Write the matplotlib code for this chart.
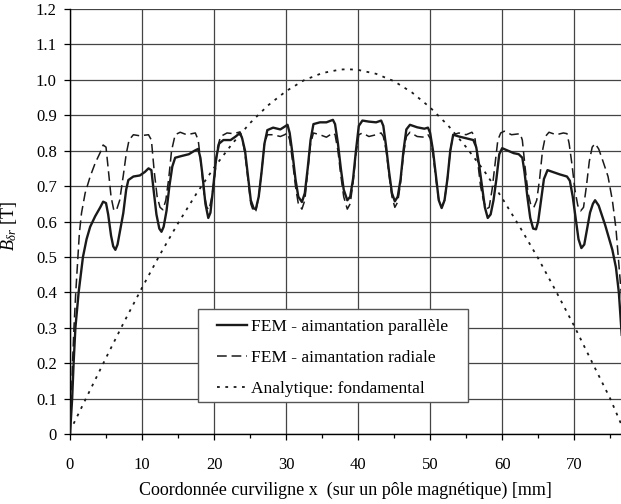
import matplotlib
matplotlib.use("Agg")
import matplotlib.pyplot as plt
from matplotlib.patches import Rectangle

plt.rcParams['font.family'] = ['Liberation Serif', 'DejaVu Serif']
plt.rcParams['mathtext.fontset'] = 'custom'
plt.rcParams['mathtext.rm'] = 'Liberation Serif'
plt.rcParams['mathtext.it'] = 'Liberation Serif:italic'
plt.rcParams['lines.scale_dashes'] = False

# ---- data ----
x_par = [0, 0.3, 0.5, 0.75, 1.2, 1.8, 2.3, 2.8, 3.5, 4.2, 4.6, 5.0, 5.3, 5.7, 6.0, 6.3, 6.6, 7.0, 7.4, 7.8, 8.1, 8.8, 9.7, 10.4, 10.9, 11.3,
         11.6, 12.0, 12.4, 12.7, 13.0, 13.4, 13.8, 14.2, 14.6, 15.5, 16.5, 17.3, 17.8,
         18.1, 18.4, 18.8, 19.2, 19.5, 19.9, 20.3, 20.7, 21.3, 22.3, 23.0, 23.6,
         23.9, 24.3, 24.7, 25.1, 25.5, 25.8, 26.2, 26.6, 27.0, 27.4, 28.2, 29.2, 29.8, 30.2,
         30.5, 30.9, 31.3, 31.7, 32.2, 32.6, 33.0, 33.4, 33.8, 34.7, 35.6, 36.5, 36.8,
         37.2, 37.6, 38.0, 38.5, 38.9, 39.3, 39.7, 40.1, 40.6, 41.5, 42.5, 43.2, 43.5,
         43.9, 44.3, 44.7, 45.1, 45.5, 45.9, 46.3, 46.7, 47.2, 48.2, 49.2, 49.7, 50.0,
         50.4, 50.8, 51.2, 51.6, 52.0, 52.4, 52.8, 53.2, 54.0, 55.0, 56.0, 56.4,
         56.8, 57.2, 57.6, 58.0, 58.4, 58.8, 59.2, 59.6, 60.0, 60.8, 61.6, 62.3, 62.8,
         63.1, 63.5, 63.9, 64.3, 64.7, 65.0, 65.4, 65.8, 66.3, 67.0, 68.0, 69.0, 69.4,
         69.8, 70.2, 70.6, 71.0, 71.4, 71.8, 72.2, 72.6, 72.9, 73.4, 74.3, 75.3, 75.8, 76.2, 76.6]
y_par = [0, 0.1, 0.2, 0.3, 0.4, 0.5, 0.55, 0.585, 0.615, 0.64, 0.656, 0.652, 0.62, 0.56, 0.53, 0.52, 0.535, 0.58, 0.624, 0.69, 0.717, 0.727, 0.73, 0.74, 0.75, 0.745,
         0.69, 0.62, 0.58, 0.571, 0.585, 0.63, 0.70, 0.755, 0.78, 0.785, 0.79, 0.80, 0.805,
         0.78, 0.73, 0.65, 0.61, 0.625, 0.70, 0.78, 0.82, 0.83, 0.83, 0.84, 0.85,
         0.835, 0.80, 0.73, 0.66, 0.637, 0.635, 0.67, 0.74, 0.82, 0.858, 0.865, 0.86, 0.868, 0.873,
         0.85, 0.79, 0.72, 0.67, 0.655, 0.68, 0.75, 0.83, 0.875, 0.88, 0.88, 0.887, 0.875,
         0.82, 0.75, 0.69, 0.66, 0.67, 0.72, 0.80, 0.87, 0.885, 0.882, 0.88, 0.885, 0.87,
         0.81, 0.74, 0.68, 0.657, 0.67, 0.72, 0.80, 0.86, 0.873, 0.866, 0.862, 0.865, 0.85,
         0.80, 0.73, 0.66, 0.638, 0.66, 0.72, 0.80, 0.845, 0.84, 0.835, 0.83, 0.81,
         0.76, 0.70, 0.64, 0.61, 0.62, 0.66, 0.72, 0.79, 0.807, 0.80, 0.793, 0.79, 0.78,
         0.74, 0.67, 0.61, 0.58, 0.578, 0.60, 0.66, 0.72, 0.745, 0.74, 0.733, 0.727, 0.715,
         0.67, 0.61, 0.55, 0.525, 0.535, 0.58, 0.625, 0.65, 0.66, 0.645, 0.59, 0.52, 0.47, 0.40, 0.28]

x_rad = [0, 0.2, 0.35, 0.55, 0.8, 1.1, 1.3, 1.6, 2.1, 2.8, 3.5, 4.2, 4.6, 5.0, 5.3, 5.7, 6.1, 6.5, 6.9, 7.4, 7.8, 8.2, 8.8, 9.7, 10.9, 11.3,
         11.7, 12.1, 12.5, 12.9, 13.3, 13.7, 14.1, 14.6, 15.3, 16.2, 17.4, 17.8,
         18.2, 18.6, 19.0, 19.3, 19.7, 20.1, 20.5, 20.9, 21.8, 22.7, 23.6,
         23.9, 24.3, 24.7, 25.1, 25.5, 25.8, 26.2, 26.6, 27.0, 27.4, 28.2, 29.2, 29.8, 30.2,
         30.5, 30.9, 31.3, 31.7, 32.2, 32.6, 33.0, 33.4, 33.8, 34.7, 35.6, 36.5, 36.8,
         37.2, 37.6, 38.0, 38.5, 38.9, 39.3, 39.7, 40.1, 40.6, 41.5, 42.5, 43.2, 43.5,
         43.9, 44.3, 44.7, 45.1, 45.5, 45.9, 46.3, 46.7, 47.2, 48.2, 49.2, 49.7, 50.0,
         50.4, 50.8, 51.2, 51.6, 52.0, 52.4, 52.8, 53.2, 54.0, 55.0, 55.8, 56.2,
         56.6, 57.0, 57.4, 57.8, 58.2, 58.6, 59.0, 59.4, 59.8, 60.3, 61.3, 62.5, 62.8,
         63.2, 63.6, 64.0, 64.4, 64.8, 65.2, 65.6, 66.0, 66.5, 67.5, 68.5, 69.0, 69.3,
         69.7, 70.1, 70.5, 70.9, 71.3, 71.7, 72.1, 72.5, 72.9, 73.4, 74.0, 74.7, 75.3, 75.8, 76.2, 76.6]
y_rad = [0, 0.1, 0.2, 0.3, 0.4, 0.5, 0.567, 0.624, 0.68, 0.727, 0.765, 0.795, 0.816, 0.81, 0.75, 0.67, 0.63, 0.635, 0.66, 0.73, 0.79, 0.83, 0.845, 0.842, 0.845, 0.83,
         0.74, 0.67, 0.64, 0.633, 0.66, 0.72, 0.80, 0.845, 0.852, 0.845, 0.85, 0.83,
         0.76, 0.68, 0.64, 0.633, 0.67, 0.73, 0.81, 0.84, 0.85, 0.848, 0.853,
         0.835, 0.79, 0.72, 0.65, 0.627, 0.63, 0.67, 0.74, 0.82, 0.845, 0.845, 0.84, 0.845, 0.85,
         0.83, 0.77, 0.70, 0.65, 0.635, 0.66, 0.74, 0.82, 0.85, 0.845, 0.838, 0.85, 0.845,
         0.80, 0.73, 0.67, 0.635, 0.65, 0.71, 0.79, 0.845, 0.85, 0.84, 0.845, 0.85, 0.84,
         0.80, 0.73, 0.67, 0.64, 0.655, 0.71, 0.79, 0.84, 0.852, 0.84, 0.838, 0.845, 0.835,
         0.79, 0.72, 0.66, 0.64, 0.66, 0.72, 0.80, 0.845, 0.85, 0.845, 0.852, 0.84,
         0.77, 0.70, 0.66, 0.635, 0.64, 0.69, 0.76, 0.83, 0.85, 0.855, 0.845, 0.848, 0.83,
         0.75, 0.68, 0.645, 0.64, 0.66, 0.72, 0.80, 0.84, 0.852, 0.845, 0.85, 0.848, 0.82,
         0.76, 0.69, 0.645, 0.63, 0.64, 0.70, 0.77, 0.81, 0.82, 0.805, 0.77, 0.727, 0.66, 0.58, 0.48, 0.38]

x_ana = [0.5, 2.5, 5, 7.5, 10, 12.5, 15, 17.5, 20, 22.5, 25, 27.5, 30, 32.5, 35, 37.5, 38.6,
         40, 42.5, 45, 47.5, 50, 52.5, 55, 57.5, 60, 62.5, 65, 67.5, 70, 72.5, 75, 76.5]
y_ana = [0.029, 0.112, 0.215, 0.316, 0.413, 0.507, 0.595, 0.677, 0.752, 0.819, 0.878, 0.928, 0.968, 0.999, 1.019, 1.029, 1.030,
         1.028, 1.017, 0.996, 0.964, 0.922, 0.871, 0.810, 0.743, 0.666, 0.583, 0.496, 0.402, 0.305, 0.202, 0.100, 0.029]

labels = ['FEM - aimantation parallèle', 'FEM - aimantation radiale', 'Analytique: fondamental']
x_ticks = [0, 10, 20, 30, 40, 50, 60, 70]
y_ticks = [0, 0.1, 0.2, 0.3, 0.4, 0.5, 0.6, 0.7, 0.8, 0.9, 1.0, 1.1, 1.2]
y_ticklabels = ['0', '0.1', '0.2', '0.3', '0.4', '0.5', '0.6', '0.7', '0.8', '0.9', '1.0', '1.1', '1.2']

assert len(x_par) == len(y_par) and len(x_rad) == len(y_rad) and len(x_ana) == len(y_ana)

fig = plt.figure(figsize=(6.21, 5.04), dpi=100)
ax = fig.add_axes([70/621, 1-434/504, 1-70/621, (434-9)/504])

ax.plot(x_par, y_par, color='#1a1a1a', lw=1.7, ls='-', label=labels[0], zorder=4)
ax.plot(x_rad, y_rad, color='#1a1a1a', lw=1.1, ls=(0, (7, 3.5)), label=labels[1], zorder=3)
ax.plot(x_ana, y_ana, color='#1a1a1a', lw=1.3, ls=(0, (2, 4)), label=labels[2], zorder=3)

ax.set_xlim(0, 76.5)
ax.set_ylim(0, 1.2)
ax.set_xticks(x_ticks)
ax.set_xticks([5, 15, 25, 35, 45, 55, 65, 75], minor=True)
ax.set_yticks(y_ticks)
ax.set_yticklabels(y_ticklabels)
ax.grid(True, which='major', color='#444444', lw=0.9)
ax.set_axisbelow(True)
for s in ['top', 'right']:
    ax.spines[s].set_visible(False)
for s in ['left', 'bottom']:
    ax.spines[s].set_color('black')
    ax.spines[s].set_linewidth(1.0)

ax.tick_params(axis='both', which='major', direction='out', length=4, width=0.9, labelsize=12, colors='black')
ax.tick_params(axis='x', which='major', pad=12.5)
ax.tick_params(axis='y', which='major', pad=5.5)
ax.tick_params(axis='x', which='minor', direction='out', length=3, width=0.9)

ax.set_xlabel('Coordonnée curviligne x  (sur un pôle magnétique) [mm]', fontsize=13)
ax.set_ylabel(r'$B_{\delta r}$ [T]', fontsize=13)
ax.xaxis.set_label_coords(0.5, -0.112)
ax.yaxis.set_label_coords(-0.093, 0.49)

# legend frame (white box with grey border)
box = Rectangle((0.232, 0.075), 0.49, 0.219, transform=ax.transAxes,
                facecolor='white', edgecolor='#555555', lw=1.0, zorder=8)
ax.add_patch(box)

leg = ax.legend(loc='upper left', bbox_to_anchor=(0.266, 0.271), borderaxespad=0,
                fontsize=12.5, frameon=False, handlelength=1.75, handletextpad=0.25,
                labelspacing=0.85, borderpad=0)
leg.set_zorder(10)

fig.savefig('out.png', dpi=100)
